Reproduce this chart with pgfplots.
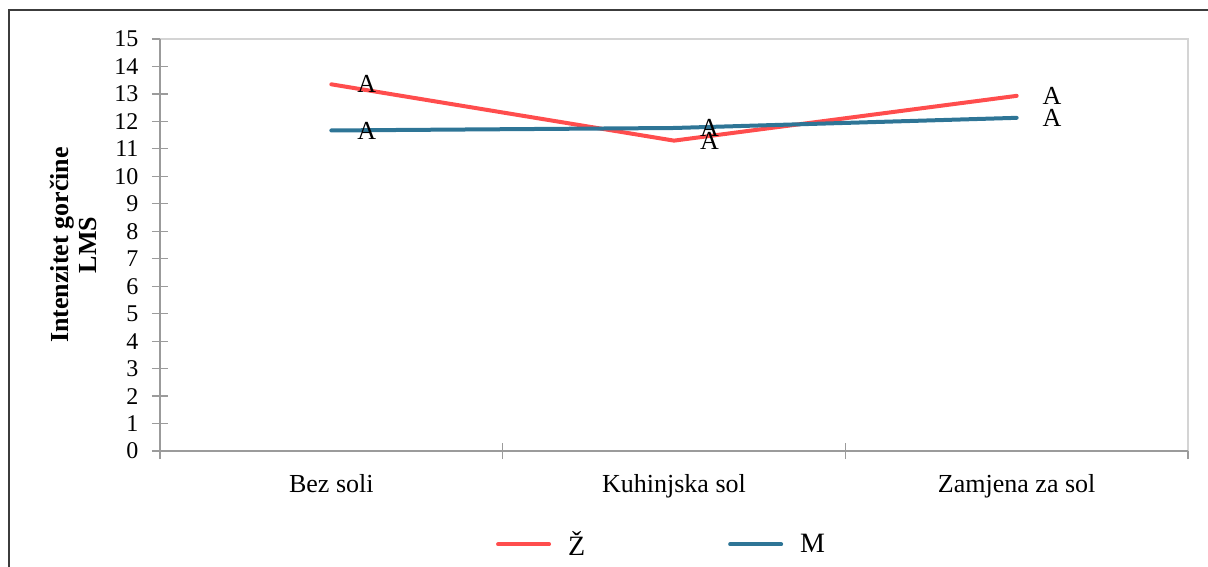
\documentclass[border=0pt]{standalone}
\usepackage{fontspec}
\setmainfont{Liberation Serif}
\usepackage{pgfplots}
\pgfplotsset{compat=1.18}
\definecolor{zred}{RGB}{255,77,77}
\definecolor{mblue}{RGB}{46,117,150}
\definecolor{axgray}{RGB}{155,155,155}
\definecolor{boxgray}{RGB}{212,212,212}
\definecolor{framegray}{RGB}{60,60,60}
\begin{document}
\begin{tikzpicture}[x=1pt,y=1pt]
\useasboundingbox (0,0) rectangle (1208,566);
\draw[line width=2pt, framegray] (9,-30) rectangle (1240,556);
\begin{axis}[
  at={(160pt,115pt)}, anchor=south west,
  scale only axis, width=1028pt, height=412pt,
  xmin=-0.5, xmax=2.5, ymin=0, ymax=15,
  xtick={0,1,2},
  xticklabels={Bez soli, Kuhinjska sol, Zamjena za sol},
  minor xtick={-0.5,0.5,1.5,2.5},
  ytick={0,1,...,15},
  xtick pos=left, ytick pos=left,
  axis line style={draw=none},
  tick align=center,
  major tick length=16pt,
  minor tick length=16pt,
  major x tick style={draw=none},
  tick style={axgray, line width=1.2pt},
  minor tick style={axgray, line width=1.2pt},
  xticklabel style={font=\fontsize{26}{28}\selectfont, yshift=-12pt},
  yticklabel style={font=\fontsize{24}{26}\selectfont, xshift=-10pt},
  /pgf/number format/assume math mode=true,
  ylabel={Intenzitet gorčine\\LMS},
  ylabel style={at={(rel axis cs:-0.0845,0.5)}, anchor=center, rotate=0, align=center,
    font=\fontsize{26}{28}\selectfont\bfseries},
  nodes near coords,
  point meta=explicit symbolic,
  every node near coord/.style={anchor=west, inner sep=0pt, xshift=24pt, black,
    font=\fontsize{26}{28}\selectfont},
  legend style={at={(rel axis cs:0.4879,-0.2265)}, anchor=center, draw=none,
    legend columns=2, font=\fontsize{28}{30}\selectfont,
    /tikz/every odd column/.append style={column sep=15pt},
    /tikz/every even column/.append style={column sep=141pt}},
  legend image code/.code={\draw[line width=4pt, line cap=round] (0pt,0pt) -- (51pt,0pt);},
  clip=false,
]
\addplot[zred, line width=4pt, line cap=round, line join=round] coordinates {(0,13.35)[A] (1,11.3)[A] (2,12.93)[A]};
\addplot[mblue, line width=4pt, line cap=round, line join=round] coordinates {(0,11.67)[A] (1,11.76)[A] (2,12.13)[A]};
\legend{Ž, M}
\draw[boxgray, line width=2pt] (rel axis cs:0,1) -- (rel axis cs:1,1) -- (rel axis cs:1,0);
\draw[axgray, line width=2pt] (rel axis cs:0,1) -- (rel axis cs:0,0) -- (rel axis cs:1,0);
\end{axis}
\end{tikzpicture}
\end{document}
